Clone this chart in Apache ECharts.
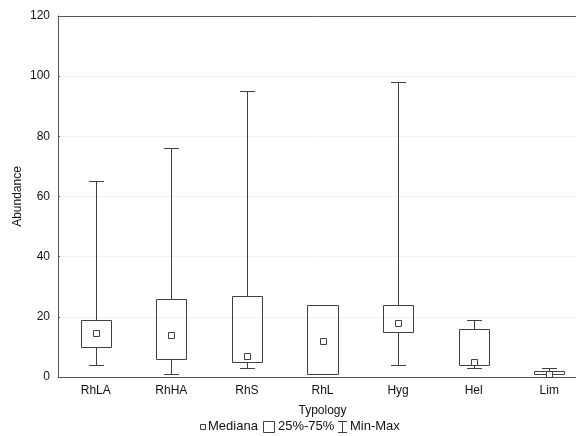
<!DOCTYPE html>
<html>
<head>
<meta charset="utf-8">
<script src="https://cdn.jsdelivr.net/npm/echarts@6/dist/echarts.min.js"></script>
<style>html,body{margin:0;padding:0;background:#fff;}#c{width:576px;height:436px;}</style>
</head>
<body>
<div id="c"></div>
<script>
const categories = ['RhLA', 'RhHA', 'RhS', 'RhL', 'Hyg', 'Hel', 'Lim'];
const minVals    = [4, 1, 3, 1, 4, 3, 1];
const q1Vals     = [10, 6, 5, 1, 15, 4, 1];
const medianVals = [14.5, 14, 7, 12, 18, 5, 1];
const q3Vals     = [19, 26, 27, 24, 24, 16, 2];
const maxVals    = [65, 76, 95, 24, 98, 19, 3];
const yTicks     = [0, 20, 40, 60, 80, 100, 120];
const legendLabels = ['Mediana', '25%-75%', 'Min-Max'];

const LINE = '#404040';
const rows = categories.map((c, i) => [i, minVals[i], q1Vals[i], medianVals[i], q3Vals[i], maxVals[i]]);
const r = v => Math.round(v) + 0.5;
const FONT = 'Liberation Sans, Arial, sans-serif';

const iconStyle = {fill: '#fff', stroke: LINE, lineWidth: 1};
const txt = (x, s) => ({type: 'text', left: x, top: 420,
  style: {text: s, fill: '#111', fontSize: 13, fontFamily: FONT}});

const chart = echarts.init(document.getElementById('c'), null, {renderer: 'canvas'});
chart.setOption({
  animation: false,
  backgroundColor: '#fff',
  textStyle: {fontFamily: FONT},
  grid: {left: 58, top: 16, bottom: 59, width: 529, containLabel: false, outerBoundsMode: 'none'},
  xAxis: [{
    type: 'category', data: categories, position: 'bottom',
    boundaryGap: true,
    name: 'Typology', nameLocation: 'middle', nameGap: 28, nameMoveOverlap: false,
    nameTextStyle: {color: '#111', fontSize: 12},
    axisLine: {lineStyle: {color: '#555', width: 1}},
    axisTick: {alignWithLabel: true, inside: true, length: 3, lineStyle: {color: '#555'}},
    axisLabel: {color: '#111', fontSize: 12, margin: 8},
    splitLine: {show: false}
  }, {
    type: 'category', data: categories, position: 'top',
    boundaryGap: true,
    axisLine: {lineStyle: {color: '#555', width: 1}},
    axisTick: {alignWithLabel: true, inside: true, length: 3, lineStyle: {color: '#555'}},
    axisLabel: {show: false},
    splitLine: {show: false}
  }],
  yAxis: {
    type: 'value', min: yTicks[0], max: yTicks[yTicks.length - 1], interval: 20,
    name: 'Abundance', nameLocation: 'middle', nameGap: 34, nameMoveOverlap: false,
    nameTextStyle: {color: '#111', fontSize: 12},
    axisLine: {show: true, lineStyle: {color: '#555', width: 1}},
    axisTick: {show: true, inside: true, length: 2, lineStyle: {color: '#555'}},
    axisLabel: {color: '#111', fontSize: 12, margin: 8},
    splitLine: {show: true, lineStyle: {color: '#f2f2f2', width: 1}}
  },
  graphic: [
    {type: 'rect', shape: {x: 200.5, y: 424.5, width: 5, height: 5}, style: iconStyle},
    txt(208, legendLabels[0]),
    {type: 'rect', shape: {x: 263.5, y: 421.5, width: 11, height: 11}, style: iconStyle},
    txt(278, legendLabels[1]),
    {type: 'group', children: [
      {type: 'line', shape: {x1: 338, y1: 421.5, x2: 347, y2: 421.5}, style: iconStyle},
      {type: 'line', shape: {x1: 342.5, y1: 421.5, x2: 342.5, y2: 432.5}, style: iconStyle},
      {type: 'line', shape: {x1: 338, y1: 432.5, x2: 347, y2: 432.5}, style: iconStyle}
    ]},
    txt(350, legendLabels[2])
  ],
  series: [{
    name: 'Min-Max', type: 'custom', data: rows,
    encode: {x: 0, y: [1, 2, 3, 4, 5]},
    renderItem: function (params, api) {
      const x = api.value(0);
      const pMin = api.coord([x, api.value(1)]);
      const pQ1 = api.coord([x, api.value(2)]);
      const pQ3 = api.coord([x, api.value(4)]);
      const pMax = api.coord([x, api.value(5)]);
      const cw = api.size([1, 0])[0] * 0.21;
      const cx = r(pMin[0]);
      const st = {stroke: LINE, lineWidth: 1, fill: null};
      return {type: 'group', children: [
        {type: 'line', shape: {x1: cx, y1: r(pMin[1]), x2: cx, y2: r(pQ1[1])}, style: st},
        {type: 'line', shape: {x1: cx, y1: r(pQ3[1]), x2: cx, y2: r(pMax[1])}, style: st},
        {type: 'line', shape: {x1: Math.round(cx - cw / 2), y1: r(pMin[1]), x2: Math.round(cx + cw / 2), y2: r(pMin[1])}, style: st},
        {type: 'line', shape: {x1: Math.round(cx - cw / 2), y1: r(pMax[1]), x2: Math.round(cx + cw / 2), y2: r(pMax[1])}, style: st}
      ]};
    }
  }, {
    name: '25%-75%', type: 'custom', data: rows,
    encode: {x: 0, y: [2, 4]},
    renderItem: function (params, api) {
      const x = api.value(0);
      const lo = api.coord([x, api.value(2)]);
      const hi = api.coord([x, api.value(4)]);
      const w = api.size([1, 0])[0] * 0.4;
      const x0 = r(lo[0] - w / 2), x1 = r(lo[0] + w / 2);
      const y0 = r(hi[1]), y1 = r(lo[1]);
      return {type: 'rect', shape: {x: x0, y: y0, width: x1 - x0, height: y1 - y0},
        style: {fill: 'rgba(255,255,255,0)', stroke: LINE, lineWidth: 1}};
    }
  }, {
    name: 'Mediana', type: 'custom', data: rows,
    encode: {x: 0, y: 3},
    renderItem: function (params, api) {
      const x = api.value(0);
      const p = api.coord([x, api.value(3)]);
      const s = 6;
      return {type: 'rect', shape: {x: r(p[0] - s / 2), y: r(p[1] - s / 2), width: s, height: s},
        style: {fill: '#fff', stroke: LINE, lineWidth: 1}};
    }
  }]
});
</script>
</body>
</html>
